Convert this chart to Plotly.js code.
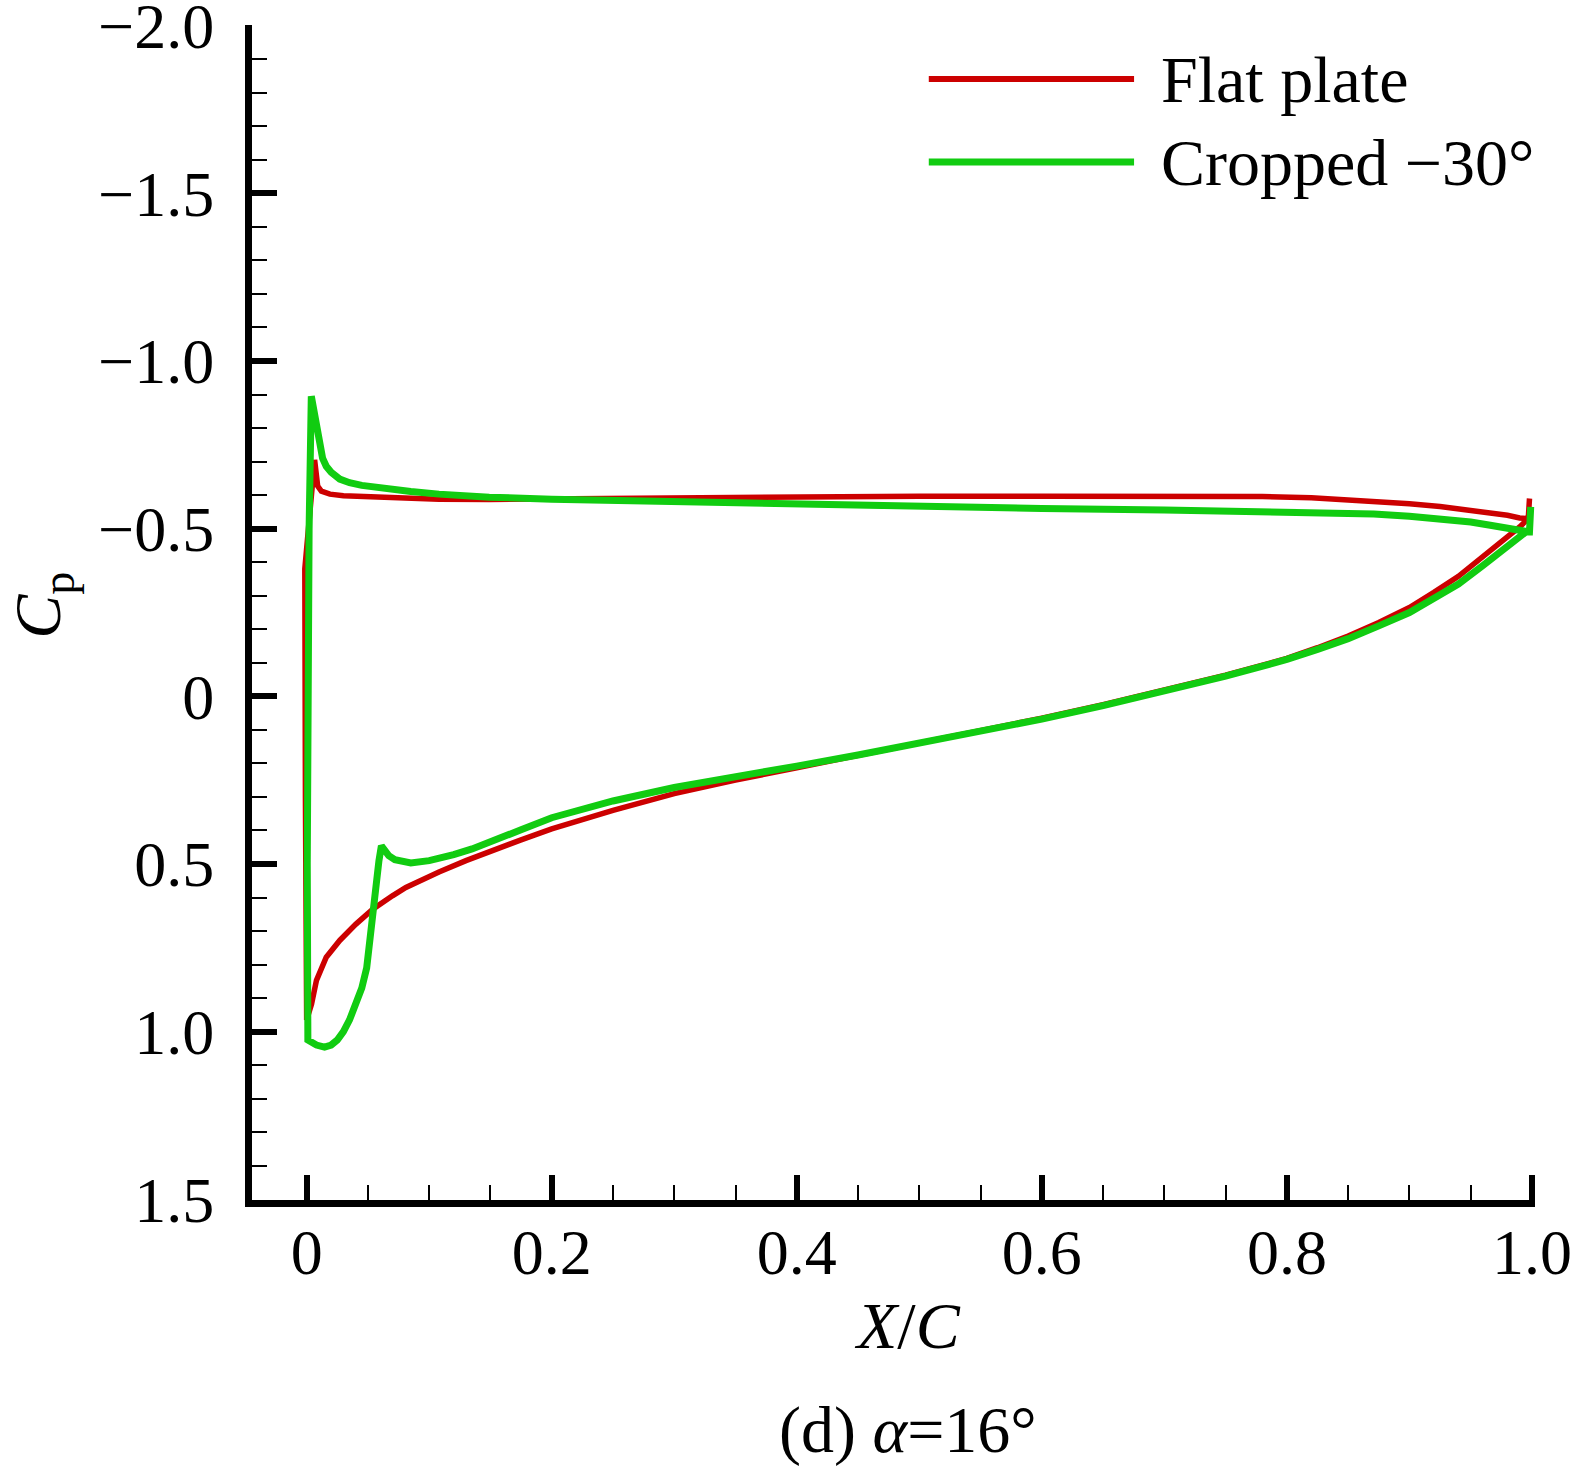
<!DOCTYPE html>
<html>
<head>
<meta charset="utf-8">
<script src="https://cdn.plot.ly/plotly-3.0.1.min.js"></script>
<style>
  html, body { margin: 0; padding: 0; background: #fff; }
  #chart { width: 1573px; height: 1467px; }
</style>
</head>
<body>
<div id="chart"></div>
<script>
// Flat plate: TE spike -> lower surface -> LE -> upper surface -> TE
const flatX = [0.998, 0.997, 0.99, 0.98, 0.97, 0.96, 0.95, 0.94, 0.92, 0.9, 0.875, 0.85, 0.825, 0.8, 0.75, 0.7, 0.65, 0.6,
  0.55, 0.5, 0.45, 0.4, 0.35, 0.3, 0.25, 0.2, 0.175, 0.15, 0.13, 0.108, 0.09, 0.081, 0.07, 0.054, 0.04, 0.027, 0.016,
  0.008, 0.004, 0.0,
  -0.001, -0.0015, 0.0065,
  0.008, 0.009, 0.012, 0.019, 0.03, 0.054, 0.108, 0.149, 0.2, 0.3, 0.4, 0.5, 0.6, 0.7, 0.78, 0.82, 0.85, 0.871, 0.9,
  0.925, 0.95, 0.966, 0.98, 0.99, 0.997];
const flatCp = [-0.59, -0.53, -0.505, -0.475, -0.445, -0.415, -0.385, -0.358, -0.31, -0.265, -0.22, -0.18, -0.145, -0.113, -0.063, -0.018, 0.025, 0.065,
  0.103, 0.14, 0.177, 0.213, 0.25, 0.29, 0.34, 0.395, 0.428, 0.462, 0.49, 0.524, 0.553, 0.57, 0.595, 0.635, 0.68, 0.728, 0.778,
  0.847, 0.918, 0.965,
  0.3, -0.38, -0.705,
  -0.66, -0.627, -0.612, -0.603, -0.598, -0.594, -0.588, -0.587, -0.589, -0.592, -0.595, -0.597, -0.597, -0.597, -0.596, -0.592, -0.586, -0.58, -0.574,
  -0.566, -0.556, -0.548, -0.54, -0.532, -0.53];

// Cropped -30 deg: TE spike -> lower surface -> LE -> upper surface -> TE
const cropX = [0.999, 0.998, 0.995, 0.99, 0.979, 0.96, 0.94, 0.92, 0.9, 0.875, 0.85, 0.825, 0.8, 0.75, 0.7, 0.65, 0.6,
  0.55, 0.5, 0.45, 0.4, 0.35, 0.3, 0.25, 0.225, 0.2, 0.175, 0.15, 0.135, 0.12, 0.11, 0.1, 0.085, 0.078, 0.072, 0.067, 0.064, 0.061,
  0.059, 0.057, 0.055, 0.052, 0.049, 0.045, 0.04, 0.035, 0.03, 0.025, 0.02, 0.0146, 0.008, 0.004, 0.001,
  0.0005, 0.001, 0.002, 0.0038,
  0.0055, 0.0075, 0.009, 0.0106, 0.013, 0.016, 0.02, 0.027, 0.035, 0.045, 0.054, 0.07, 0.085, 0.108, 0.13, 0.149,
  0.2, 0.3, 0.4, 0.5, 0.6, 0.7, 0.8, 0.85, 0.871, 0.9, 0.925, 0.95, 0.966, 0.99, 0.998];
const cropCp = [-0.565, -0.49, -0.49, -0.475, -0.445, -0.39, -0.335, -0.29, -0.25, -0.21, -0.172, -0.14, -0.11, -0.06, -0.015, 0.028, 0.068,
  0.105, 0.14, 0.175, 0.208, 0.24, 0.272, 0.312, 0.335, 0.362, 0.398, 0.435, 0.455, 0.472, 0.482, 0.49, 0.497, 0.494, 0.487, 0.475, 0.462, 0.446,
  0.49, 0.56, 0.64, 0.74, 0.81, 0.87, 0.925, 0.965, 1.0, 1.025, 1.04, 1.046, 1.04, 1.033, 1.025,
  0.5, 0.0, -0.5, -0.895,
  -0.86, -0.81, -0.775, -0.746, -0.71, -0.686, -0.668, -0.648, -0.637, -0.629, -0.624, -0.617, -0.611, -0.603, -0.598, -0.594,
  -0.588, -0.58, -0.575, -0.568, -0.56, -0.556, -0.55, -0.547, -0.544, -0.537, -0.53, -0.52, -0.51, -0.493, -0.49];

const xTicks = [0, 0.2, 0.4, 0.6, 0.8, 1.0];
const xTickText = ["0", "0.2", "0.4", "0.6", "0.8", "1.0"];
const yTicks = [-2.0, -1.5, -1.0, -0.5, 0, 0.5, 1.0, 1.5];
const yTickText = ["\u22122.0", "\u22121.5", "\u22121.0", "\u22120.5", "0", "0.5", "1.0", "1.5"];
const seriesNames = ["Flat plate", "Cropped \u221230\u00b0"];
const seriesColors = ["#cc0000", "#11cc11"];

const FONT = '"Liberation Serif", "Times New Roman", serif';

const traces = [
  {
    x: flatX, y: flatCp, name: seriesNames[0], type: 'scatter', mode: 'lines',
    line: { color: seriesColors[0], width: 5.5 }, cliponaxis: false, showlegend: false
  },
  {
    x: cropX, y: cropCp, name: seriesNames[1], type: 'scatter', mode: 'lines',
    line: { color: seriesColors[1], width: 7 }, cliponaxis: false, showlegend: false
  }
];

// legend drawn by hand so the sample lines are long like the original
const legendY = [0.954, 0.8834];

const layout = {
  width: 1573, height: 1467,
  margin: { l: 252, r: 38, t: 25, b: 267 },
  paper_bgcolor: '#fff', plot_bgcolor: '#fff',
  font: { family: FONT, size: 64, color: '#000' },
  showlegend: false,
  xaxis: {
    range: [-0.0446, 1.0025],
    tickmode: 'array', tickvals: xTicks, ticktext: xTickText,
    ticks: 'inside', ticklen: 25, tickwidth: 6, tickcolor: '#000',
    showline: true, linewidth: 7, linecolor: '#000', mirror: false,
    showgrid: false, zeroline: false,
    tickfont: { family: FONT, size: 64 },
    ticklabelstandoff: -10,
    ticklabeloverflow: 'allow',
    minor: { dtick: 0.05, tick0: 0, ticks: 'inside', ticklen: 15, tickwidth: 2, tickcolor: '#000', showgrid: false }
  },
  yaxis: {
    range: [1.502, -2.002],
    tickmode: 'array', tickvals: yTicks, ticktext: yTickText,
    ticks: 'inside', ticklen: 25, tickwidth: 6, tickcolor: '#000',
    showline: true, linewidth: 7, linecolor: '#000', mirror: false,
    showgrid: false, zeroline: false,
    tickfont: { family: FONT, size: 64 },
    ticklabelstandoff: 18,
    ticklabeloverflow: 'allow',
    minor: { dtick: 0.1, tick0: 0, ticks: 'inside', ticklen: 15, tickwidth: 2, tickcolor: '#000', showgrid: false }
  },
  shapes: [0, 1].map(i => ({
    type: 'line', xref: 'paper', yref: 'paper',
    x0: 0.5275, x1: 0.6875, y0: legendY[i], y1: legendY[i],
    line: { color: seriesColors[i], width: i === 0 ? 6 : 7 }
  })),
  annotations: [
    ...[0, 1].map(i => ({
      xref: 'paper', yref: 'paper', x: 0.7066, y: legendY[i],
      xanchor: 'left', yanchor: 'middle', showarrow: false,
      text: seriesNames[i], font: { family: FONT, size: 66, color: '#000' }
    })),
    {
      xref: 'paper', yref: 'paper', x: 0.5113, y: -0.1064,
      xanchor: 'center', yanchor: 'middle', showarrow: false,
      text: '<i>X</i>/<i>C</i>', font: { family: FONT, size: 66, color: '#000' }
    },
    {
      xref: 'paper', yref: 'paper', x: 0.5113, y: -0.1957,
      xanchor: 'center', yanchor: 'middle', showarrow: false,
      text: '(d) <i>\u03b1</i>=16\u00b0', font: { family: FONT, size: 66, color: '#000' }
    },
    {
      xref: 'paper', yref: 'paper', x: -0.163, y: 0.5064,
      xanchor: 'center', yanchor: 'middle', showarrow: false, textangle: -90,
      text: '<i>C</i><sub>p</sub>', font: { family: FONT, size: 66, color: '#000' }
    }
  ]
};

Plotly.newPlot('chart', traces, layout, { displayModeBar: false, staticPlot: true });
</script>
</body>
</html>
